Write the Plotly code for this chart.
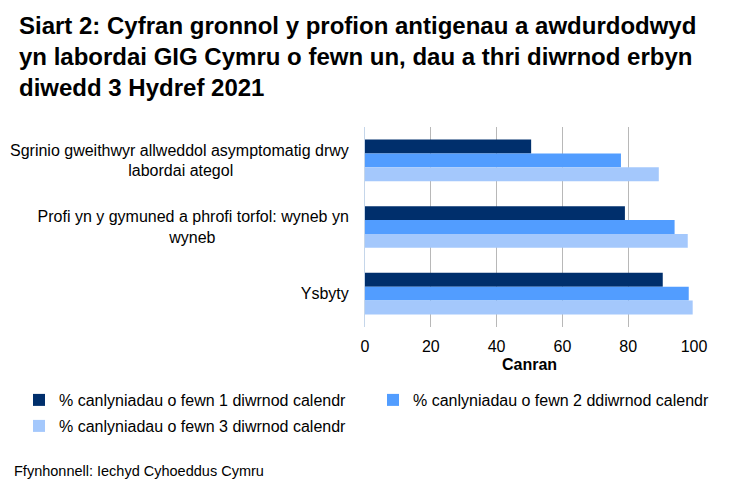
"""Siart 2: cumulative share of authorised antigen profiles, NHS Wales labs."""

import plotly.graph_objects as go

CATEGORIES = [
    "Sgrinio gweithwyr allweddol asymptomatig drwy<br>labordai ategol",
    "Profi yn y gymuned a phrofi torfol: wyneb yn<br>wyneb",
    "Ysbyty",
]
SERIES_NAMES = [
    "% canlyniadau o fewn 1 diwrnod calendr",
    "% canlyniadau o fewn 2 ddiwrnod calendr",
    "% canlyniadau o fewn 3 diwrnod calendr",
]
DAY1 = [50.5, 79.0, 90.5]
DAY2 = [77.8, 94.1, 98.4]
DAY3 = [89.3, 98.1, 99.6]
COLOURS = ["#002f6c", "#529dff", "#a4c8fc"]

TITLE = (
    "<b>Siart 2: Cyfran gronnol y profion antigenau a awdurdodwyd<br>"
    "yn labordai GIG Cymru o fewn un, dau a thri diwrnod erbyn<br>"
    "diwedd 3 Hydref 2021</b>"
)
SOURCE = "Ffynhonnell: Iechyd Cyhoeddus Cymru"

FONT = "Liberation Sans, Arial, sans-serif"

# the page body has an 8px margin, so the figure starts at (8, 8) on screen
OFFSET = 8
FIG_W, FIG_H = 730 - OFFSET, 494 - 2 * OFFSET

# plot area in screen pixels: left 365, width 329, top 127, height 200
PLOT_L, PLOT_W, PLOT_T, PLOT_H = 365, 329, 127, 200


def px_x(x):
    return (x - PLOT_L) / PLOT_W


def px_y(y):
    return (PLOT_T + PLOT_H - y) / PLOT_H


# trailing no-break spaces so the short second line sits centred under the first
PAD = {0: 26, 1: 30, 2: 0}
ticktext = []
for i, cat in enumerate(CATEGORIES):
    ticktext.append(cat + "\u00a0" * PAD[i])

LEGEND_SLOTS = [("legend", 19, 400), ("legend2", 373, 400), ("legend3", 19, 426)]

fig = go.Figure()
for name, values, colour, slot in zip(
    SERIES_NAMES, [DAY1, DAY2, DAY3], COLOURS, LEGEND_SLOTS
):
    fig.add_trace(
        go.Bar(
            y=CATEGORIES,
            x=values,
            name=name,
            orientation="h",
            marker=dict(color=colour, line=dict(width=0)),
            legend=slot[0],
        )
    )

legend_defs = {}
for key, lx, ly in LEGEND_SLOTS:
    legend_defs[key] = dict(
        orientation="h",
        x=px_x(lx),
        xanchor="left",
        y=px_y(ly),
        yanchor="middle",
        font=dict(family=FONT, size=16, color="#000000"),
        itemwidth=30,
        bgcolor="rgba(0,0,0,0)",
    )

fig.update_layout(
    width=FIG_W,
    height=FIG_H,
    barmode="group",
    bargap=0.375,
    bargroupgap=0,
    plot_bgcolor="white",
    paper_bgcolor="white",
    font=dict(family=FONT, size=16, color="#000000"),
    margin=dict(
        l=PLOT_L - OFFSET,
        r=730 - PLOT_L - PLOT_W,
        t=PLOT_T - OFFSET,
        b=FIG_H - (PLOT_T - OFFSET) - PLOT_H,
        autoexpand=False,
    ),
    xaxis=dict(
        range=[0, 100],
        dtick=20,
        showgrid=True,
        gridcolor="#b8b8b8",
        gridwidth=1,
        zeroline=False,
        showline=False,
        ticks="",
        tickfont=dict(size=16),
        ticklabelstandoff=8,
        title=dict(text="<b>Canran</b>", font=dict(size=16), standoff=4),
    ),
    yaxis=dict(
        autorange="reversed",
        showgrid=False,
        showline=True,
        linecolor="#c5d6ea",
        ticks="",
        tickmode="array",
        tickvals=CATEGORIES,
        ticktext=ticktext,
        tickfont=dict(size=16),
        ticklabelstandoff=12,
    ),
    showlegend=True,
    **legend_defs,
)

fig.add_annotation(
    text=TITLE,
    xref="paper",
    yref="paper",
    x=px_x(17),
    y=px_y(56),
    xanchor="left",
    yanchor="middle",
    align="left",
    showarrow=False,
    font=dict(family=FONT, size=24, color="#000000"),
)

fig.add_annotation(
    text=SOURCE,
    xref="paper",
    yref="paper",
    x=px_x(12),
    y=px_y(471),
    xanchor="left",
    yanchor="middle",
    showarrow=False,
    font=dict(family=FONT, size=14.5, color="#000000"),
)

fig.write_html("out.html")
